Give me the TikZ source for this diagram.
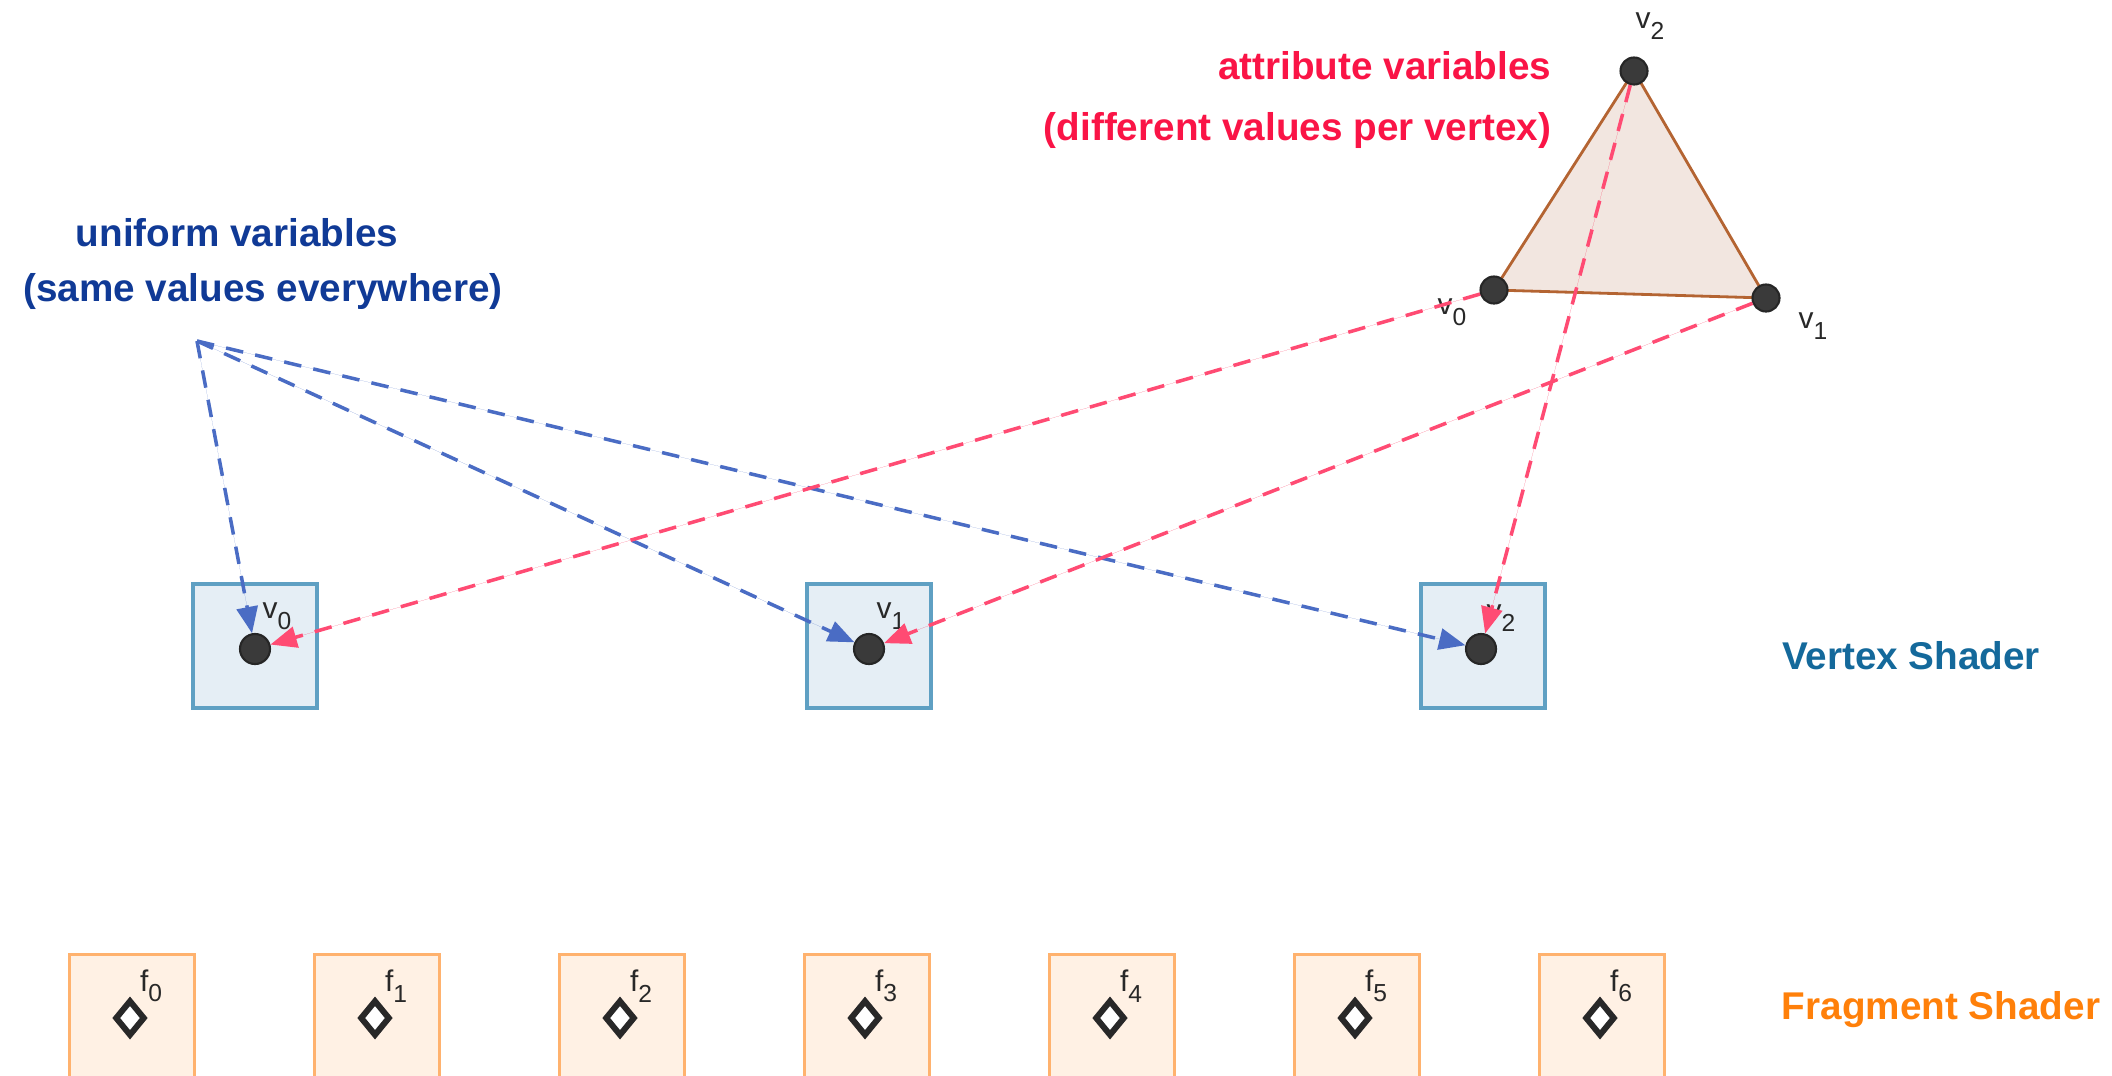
\documentclass[tikz,border=0pt]{standalone}
\usepackage{fontspec}
\setmainfont{Liberation Sans}
\usepackage{tikz}
\usetikzlibrary{arrows.meta}
\usetikzlibrary{shapes.geometric}

\definecolor{unifblue}{RGB}{16,58,150}
\definecolor{unifline}{RGB}{74,108,196}
\definecolor{attrred}{RGB}{250,20,70}
\definecolor{attrline}{RGB}{255,75,115}
\definecolor{trifill}{RGB}{242,230,224}
\definecolor{triedge}{RGB}{180,100,50}
\definecolor{dotgray}{RGB}{58,58,58}
\definecolor{labgray}{RGB}{40,40,40}
\definecolor{vsfill}{RGB}{229,238,245}
\definecolor{vsedge}{RGB}{95,160,195}
\definecolor{vstext}{RGB}{20,105,155}
\definecolor{fsfill}{RGB}{255,241,228}
\definecolor{fsedge}{RGB}{255,178,110}
\definecolor{fstext}{RGB}{255,128,10}

% letter with a lowered index
\newcommand{\vidx}[2]{#1\raisebox{-3pt}{\fontsize{7}{7}\selectfont #2}}

\begin{document}
\begin{tikzpicture}[x=0.01cm,y=-0.01cm]
\useasboundingbox (0,0) rectangle (2112,1075);
\clip (0,0) rectangle (2112,1075);

% the triangle
\coordinate (c0) at (1494,290);
\coordinate (c1) at (1766,298);
\coordinate (c2) at (1634,71);
\filldraw [fill=trifill,draw=triedge,line width=0.8pt] (c0) -- (c1) -- (c2) -- cycle;

\begin{scope}[every node/.style={circle,fill=dotgray,draw=black!85,line width=0.6pt,minimum size=0.27cm,inner sep=0pt}]
    \node (tv0) at (c0) {};
    \node (tv1) at (c1) {};
    \node (tv2) at (c2) {};
\end{scope}

% vertex shader stage
\begin{scope}[every node/.style={rectangle,fill=vsfill,draw=vsedge,line width=1pt,minimum size=1.24cm,inner sep=0pt}]
    \node (vs0) at (255,646) {};
    \node (vs1) at (869,646) {};
    \node (vs2) at (1483,646) {};
\end{scope}
\begin{scope}[every node/.style={circle,fill=dotgray,draw=black!85,line width=0.6pt,minimum size=0.3cm,inner sep=0pt}]
    \node (dv0) at (255,649) {};
    \node (dv1) at (869,649) {};
    \node (dv2) at (1481,649) {};
\end{scope}

% fragment shader stage
\foreach \i in {0,...,6} {
    \node [rectangle,fill=fsfill,draw=fsedge,line width=1pt,minimum size=1.25cm,inner sep=0pt]
        (fs\i) at (132+245*\i,1017) {};
    \node [diamond,draw=labgray,fill=white,line width=1.7pt,minimum width=0.3cm,minimum height=0.36cm,inner sep=0pt]
        (fd\i) at (130+245*\i,1018) {};
    \node [text=labgray,inner sep=0pt,font=\fontsize{8.5}{9}\selectfont]
        (lf\i) at (151+245*\i,986) {\vidx{f}{\i}};
}

\begin{scope}[every node/.style={text=labgray,inner sep=0pt,font=\fontsize{8.5}{9}\selectfont}]
    \node (ltv0) at (1452,312) {\vidx{v}{0}};
    \node (ltv1) at (1813,326) {\vidx{v}{1}};
    \node (ltv2) at (1650,26) {\vidx{v}{2}};
    \node (ldv0) at (277,616) {\vidx{v}{0}};
    \node (ldv1) at (891,616) {\vidx{v}{1}};
    \node (ldv2) at (1501,618) {\vidx{v}{2}};
\end{scope}

% captions
\begin{scope}[every node/.style={inner sep=0pt,font=\fontsize{11}{17.6}\selectfont\bfseries}]
    \node [text=unifblue] (unif) at (237,233) {uniform variables};
    \node [text=unifblue] (unifsub) at (263,291) {(same values everywhere)};
    \node [text=attrred,align=right,anchor=east] (attr) at (1552,100)
        {attribute variables\\(different values per vertex)};
    \node [text=vstext] (vstitle) at (1911,656) {Vertex Shader};
    \node [text=fstext] (fstitle) at (1941,1010) {Fragment Shader};
\end{scope}

% where the values go
\coordinate (usrc) at (197,341);
\begin{scope}[>={Triangle[length=7.5pt,width=6pt]},
              unif_edge/.style={draw=unifline,fill=unifline,line width=1pt,dash pattern=on 5pt off 3.5pt},
              attr_edge/.style={draw=attrline,fill=attrred,line width=1pt,dash pattern=on 5pt off 3.5pt}]
    \path [->] (usrc) edge [unif_edge] (dv0);
    \path [->] (usrc) edge [unif_edge] (dv1);
    \path [->] (usrc) edge [unif_edge] (dv2);
    \path [->] (tv0) edge [attr_edge] (dv0);
    \path [->] (tv1) edge [attr_edge] (dv1);
    \path [->] (tv2) edge [attr_edge] (dv2);
\end{scope}
\end{tikzpicture}
\end{document}
